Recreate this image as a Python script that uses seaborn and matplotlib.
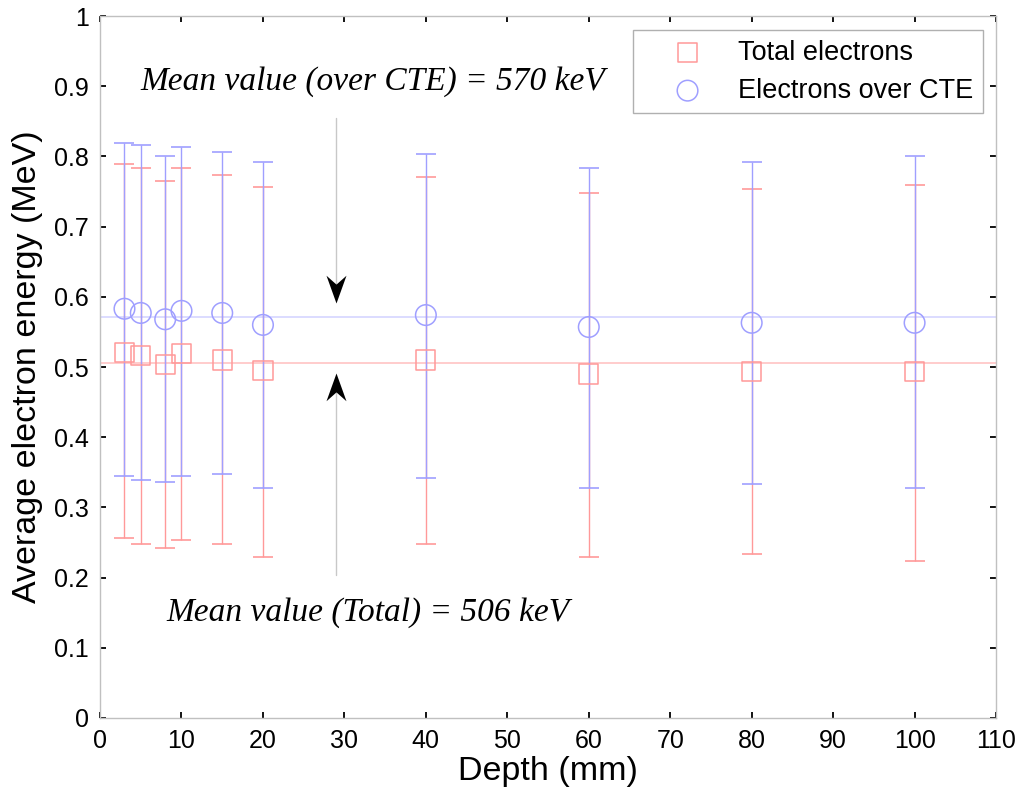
import numpy as np
import pandas as pd
import matplotlib
matplotlib.use("Agg")
import matplotlib.pyplot as plt
from matplotlib.path import Path
import seaborn as sns

# values
depth = [3, 5, 8, 10, 15, 20, 40, 60, 80, 100]
total_mean = [0.521, 0.516, 0.504, 0.519, 0.510, 0.495, 0.510, 0.490, 0.493, 0.493]
total_upper = [0.789, 0.783, 0.765, 0.783, 0.774, 0.757, 0.771, 0.748, 0.754, 0.760]
total_lower = [0.257, 0.248, 0.242, 0.254, 0.248, 0.230, 0.248, 0.230, 0.233, 0.224]
cte_mean = [0.583, 0.577, 0.568, 0.580, 0.577, 0.560, 0.574, 0.557, 0.563, 0.563]
cte_upper = [0.819, 0.816, 0.801, 0.813, 0.807, 0.792, 0.803, 0.783, 0.792, 0.801]
cte_lower = [0.345, 0.339, 0.336, 0.345, 0.348, 0.328, 0.342, 0.327, 0.333, 0.327]
mean_total = 0.506
mean_cte = 0.571
x_ticks = list(range(0, 111, 10))
y_ticks = [0, 0.1, 0.2, 0.3, 0.4, 0.5, 0.6, 0.7, 0.8, 0.9, 1]
y_ticklabels = ["0", "0.1", "0.2", "0.3", "0.4", "0.5", "0.6", "0.7", "0.8", "0.9", "1"]

red = "#ff9999"
blue = "#9f9fff"

sns.set_style("white")
plt.rcParams["font.family"] = ["Liberation Sans", "DejaVu Sans"]
plt.rcParams["text.color"] = "black"
plt.rcParams["axes.labelcolor"] = "black"
plt.rcParams["xtick.color"] = "black"
plt.rcParams["ytick.color"] = "black"

df = pd.DataFrame({"depth": depth, "total": total_mean, "cte": cte_mean})

fig = plt.figure(figsize=(10.24, 8.06), dpi=100)
ax = fig.add_axes([0.0977, 0.1092, 0.875, 0.8709])

# mean lines
ax.axhline(mean_cte, color="#d6d6ff", lw=1.2, zorder=1)
ax.axhline(mean_total, color="#ffc4c4", lw=1.2, zorder=1)

# error bars
tm = np.array(total_mean)
cm = np.array(cte_mean)
ax.errorbar(depth, tm, yerr=[tm - np.array(total_lower), np.array(total_upper) - tm],
            fmt="none", ecolor=red, elinewidth=1, capsize=7, capthick=1.2, zorder=2)
ax.errorbar(depth, cm, yerr=[cm - np.array(cte_lower), np.array(cte_upper) - cm],
            fmt="none", ecolor=blue, elinewidth=1, capsize=7, capthick=1.2, zorder=2)

# markers
sns.scatterplot(data=df, x="depth", y="total", marker="s", s=190, facecolor="none",
                edgecolor=red, linewidth=1.1, ax=ax, label="Total electrons", zorder=3)
sns.scatterplot(data=df, x="depth", y="cte", marker="o", s=220, facecolor="none",
                edgecolor=blue, linewidth=1.1, ax=ax, label="Electrons over CTE", zorder=3)

# arrows: gray shafts with black concave heads (tip at marker anchor)
head_down = Path([(0, 0), (-0.36, 1), (0, 0.68), (0.36, 1), (0, 0)],
                 [Path.MOVETO, Path.LINETO, Path.LINETO, Path.LINETO, Path.CLOSEPOLY])
head_up = Path([(0, 0), (-0.36, -1), (0, -0.68), (0.36, -1), (0, 0)],
               [Path.MOVETO, Path.LINETO, Path.LINETO, Path.LINETO, Path.CLOSEPOLY])
ax.plot([29, 29], [0.855, 0.60], color="#c8c8c8", lw=1, zorder=2)
ax.plot([29, 29], [0.204, 0.48], color="#c8c8c8", lw=1, zorder=2)
ax.plot([29], [0.591], marker=head_down, markersize=40, color="black", mew=0, zorder=4)
ax.plot([29], [0.491], marker=head_up, markersize=40, color="black", mew=0, zorder=4)

ax.text(5.0, 0.906, "Mean value (over CTE) = 570 keV", family="Liberation Serif",
        style="italic", fontsize=24, va="center", ha="left")
ax.text(8.1, 0.150, "Mean value (Total) = 506 keV", family="Liberation Serif",
        style="italic", fontsize=24, va="center", ha="left")

ax.set_xlim(0, 110)
ax.set_ylim(0, 1)
ax.set_xticks(x_ticks)
ax.set_yticks(y_ticks)
ax.set_yticklabels(y_ticklabels)
ax.tick_params(direction="in", length=4, width=1.3, color="black", labelsize=18,
               pad=8, top=True, right=True, bottom=True, left=True)
for sp in ax.spines.values():
    sp.set_color("#c0c0c0")
    sp.set_linewidth(1)

ax.set_xlabel("Depth (mm)", fontsize=24.5, labelpad=2)
ax.set_ylabel("Average electron energy (MeV)", fontsize=24.5, labelpad=8)

leg = ax.legend(loc="upper right", bbox_to_anchor=(0.9855, 0.980), fontsize=19.5,
                frameon=True, fancybox=False, edgecolor="#b0b0b0", framealpha=1,
                handlelength=3.35, handletextpad=0.2, borderpad=0.35, labelspacing=0.45,
                borderaxespad=0)
leg.get_frame().set_linewidth(1)

fig.savefig("out.png", dpi=100)
